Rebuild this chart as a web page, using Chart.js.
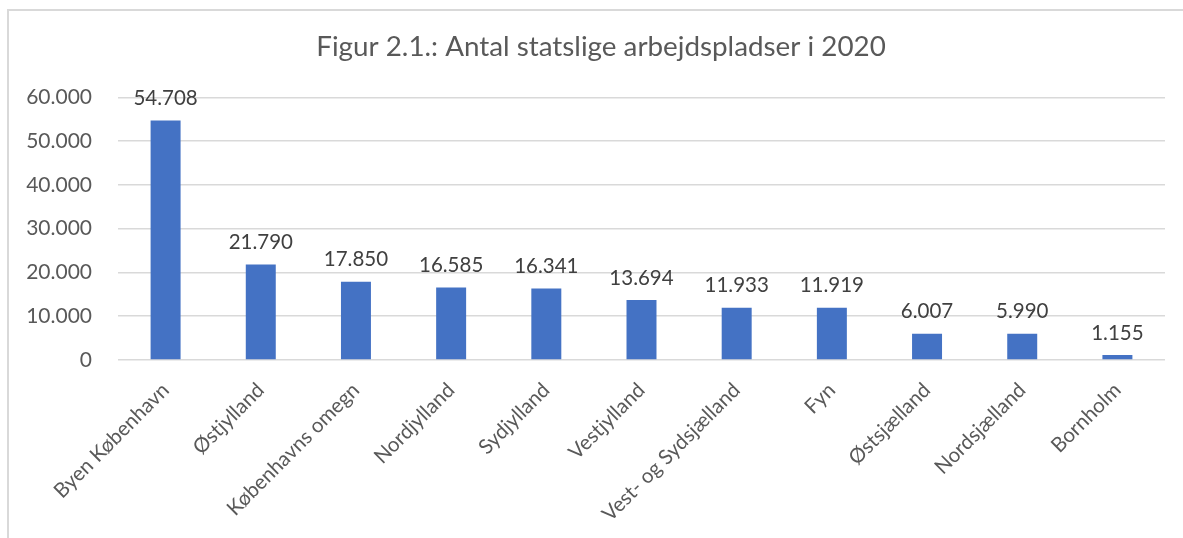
<!DOCTYPE html>
<html>
<head>
<meta charset="utf-8">
<script src="https://cdn.jsdelivr.net/npm/chart.js@4/dist/chart.umd.min.js"></script>
<style>
    body { margin: 0; background: #fff; }
    #wrap { position: absolute; left: 0; top: 0; width: 1183px; height: 538px; }
    #frame { position: absolute; left: 7px; top: 9px; width: 1200px; height: 600px;
             border-left: 2px solid #d9d9d9; border-top: 2px solid #d9d9d9; pointer-events: none; }
</style>
</head>
<body>
<div id="wrap"><canvas id="chart-bar"></canvas></div>
<div id="frame"></div>
<script>
var regions = ['Byen København', 'Østjylland', 'Københavns omegn', 'Nordjylland', 'Sydjylland',
    'Vestjylland', 'Vest- og Sydsjælland', 'Fyn', 'Østsjælland', 'Nordsjælland', 'Bornholm'];
var jobs = [54708, 21790, 17850, 16585, 16341, 13694, 11933, 11919, 6007, 5990, 1155];
var yTicks = [0, 10000, 20000, 30000, 40000, 50000, 60000];

var FONT = 'Lato, Carlito, Calibri, sans-serif';

// 60000 -> "60.000"
function fmt(v) {
    return String(v).replace(/\B(?=(\d{3})+(?!\d))/g, '.');
}

// draws the value over every bar
var valueLabels = {
    id: 'valueLabels',
    afterDatasetsDraw: function (chart) {
        var ctx = chart.ctx;
        var meta = chart.getDatasetMeta(0);
        ctx.save();
        ctx.font = '20.5px ' + FONT;
        ctx.fillStyle = '#404040';
        ctx.textAlign = 'center';
        ctx.textBaseline = 'middle';
        meta.data.forEach(function (bar, i) {
            ctx.fillText(fmt(jobs[i]), bar.x, bar.y - 22);
        });
        ctx.restore();
    }
};

// the title sits a bit right of the canvas centre in the original
var titleShift = {
    id: 'titleShift',
    afterLayout: function (chart) {
        if (chart.titleBlock) {
            chart.titleBlock.left = 37;
            chart.titleBlock.right = 1165;
        }
    }
};

var bar_config = {
    type: 'bar',
    data: {
        labels: regions,
        datasets: [{
            label: 'Arbejdspladser',
            backgroundColor: '#4472C4',
            data: jobs,
            categoryPercentage: 0.315,
            barPercentage: 1
        }]
    },
    options: {
        responsive: true,
        maintainAspectRatio: false,
        animation: false,
        layout: { padding: { left: 0, right: 18, top: 0, bottom: 0 } },
        plugins: {
            legend: { display: false },
            tooltip: { enabled: false },
            title: {
                display: true,
                text: 'Figur 2.1.: Antal statslige arbejdspladser i 2020',
                color: '#595959',
                font: { family: FONT, size: 27.8, weight: 'normal' },
                padding: { top: 30, bottom: 34 }
            }
        },
        scales: {
            x: {
                grid: { display: false },
                border: { display: false },
                ticks: {
                    color: '#595959',
                    font: { family: FONT, size: 20.5 },
                    minRotation: 45,
                    maxRotation: 45,
                    padding: 10
                },
                afterFit: function (scale) { scale.height = 178; }
            },
            y: {
                min: 0,
                max: 60000,
                grid: { color: '#d9d9d9', lineWidth: 1.5, drawTicks: false },
                border: { display: false },
                afterBuildTicks: function (scale) {
                    scale.ticks = yTicks.map(function (v) { return { value: v }; });
                },
                ticks: {
                    color: '#595959',
                    font: { family: FONT, size: 21 },
                    padding: 26,
                    callback: function (v) { return fmt(v); }
                },
                afterFit: function (scale) { scale.width = 118; }
            }
        }
    },
    plugins: [valueLabels, titleShift]
};

var barChart = document.getElementById('chart-bar').getContext('2d');
window.myBar = new Chart(barChart, bar_config);
</script>
</body>
</html>
